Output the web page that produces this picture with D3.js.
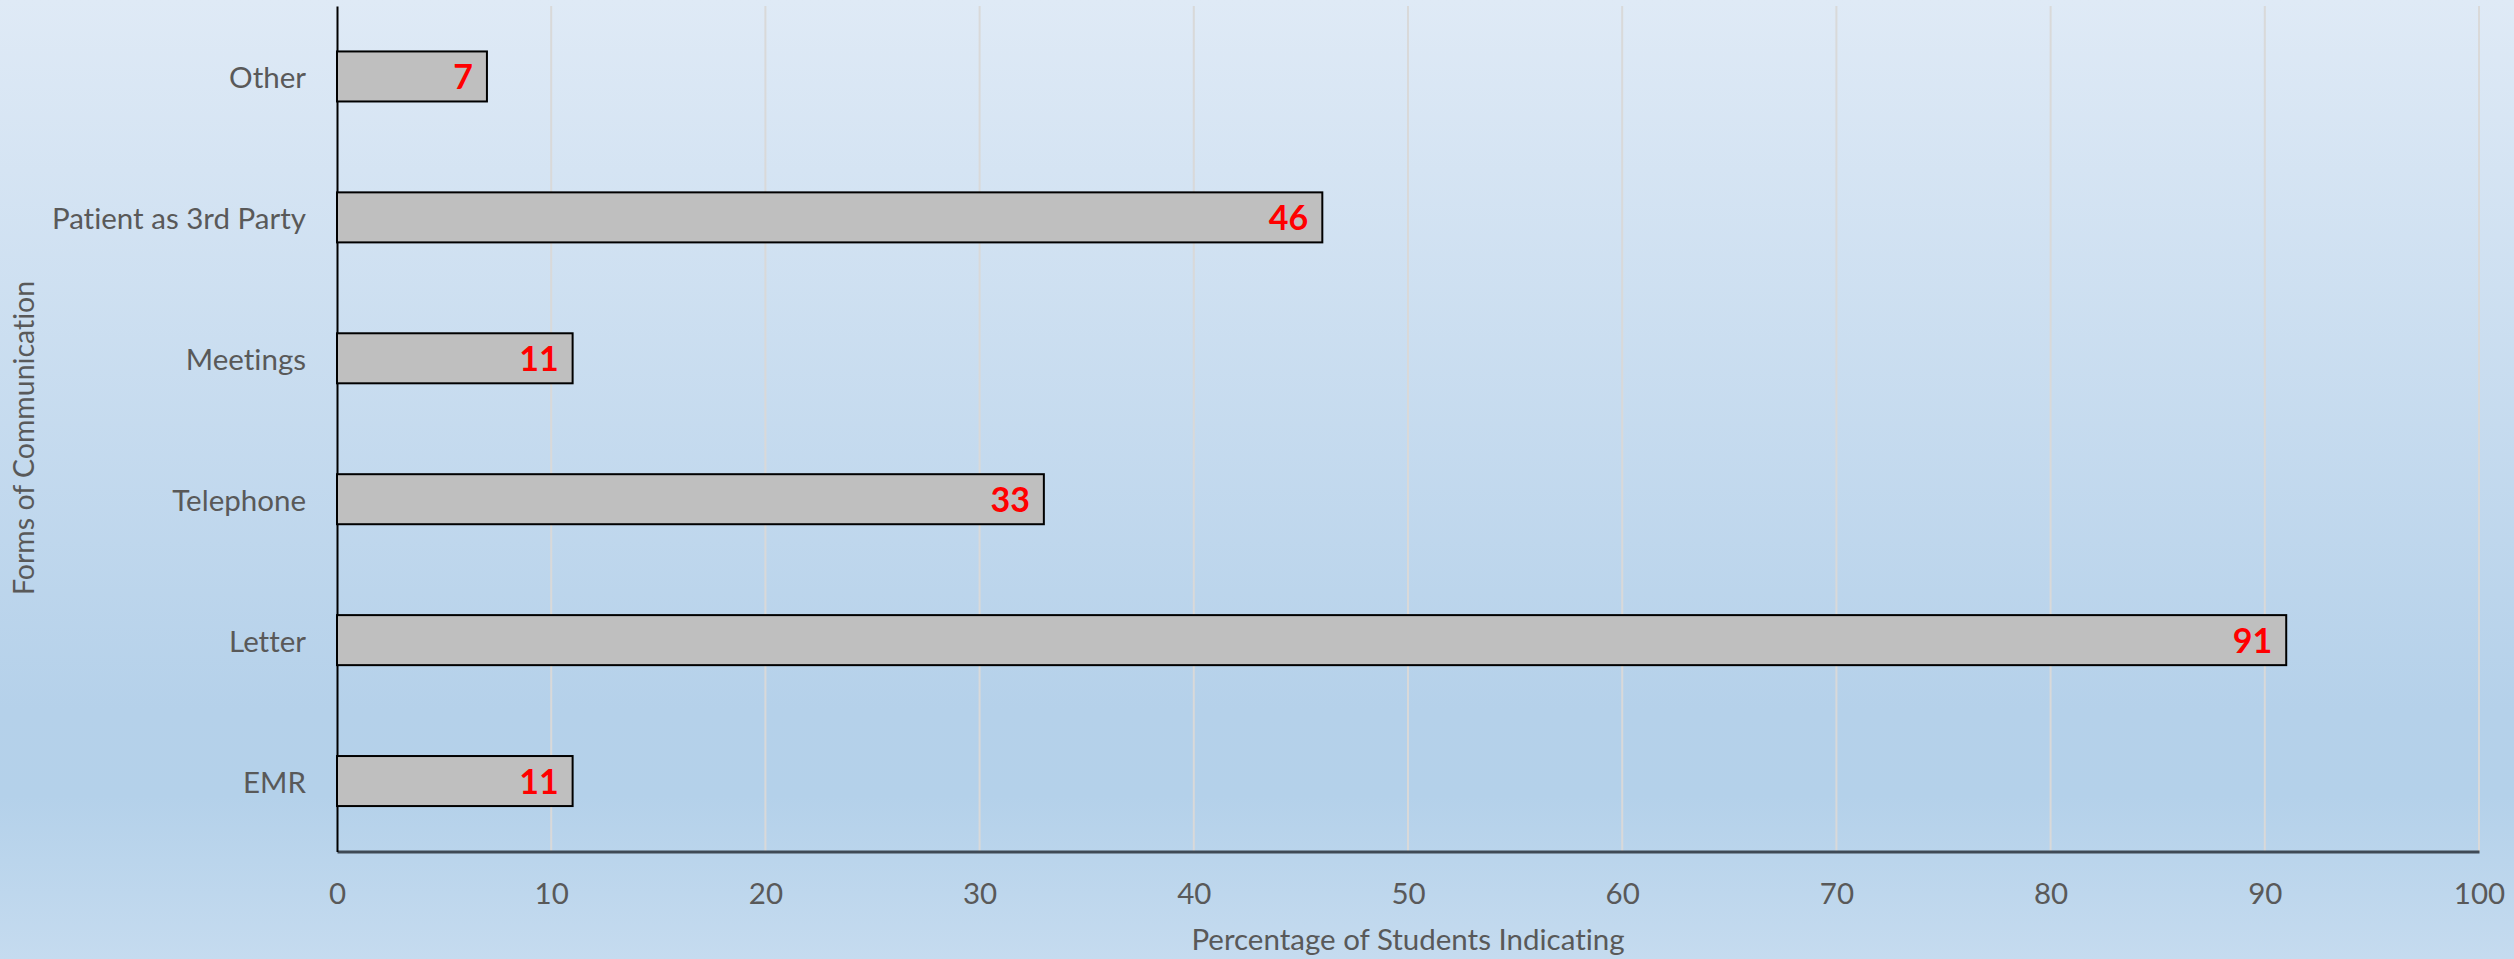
<!DOCTYPE html>
<html>
<head>
<meta charset="utf-8">
<script src="https://cdn.jsdelivr.net/npm/d3@7"></script>
<style>
  html, body { margin: 0; padding: 0; background: #ffffff; }
  svg { display: block; }
  text { font-family: Lato, "Open Sans", sans-serif; font-variant-ligatures: none; font-feature-settings: "liga" 0, "clig" 0; }
</style>
</head>
<body>
<svg id="chart"></svg>
<script>
// Forms of communication, listed bottom to top
const categories = ["EMR", "Letter", "Telephone", "Meetings", "Patient as 3rd Party", "Other"];
const percentages = [11, 91, 33, 11, 46, 7];
const xTicks = [0, 10, 20, 30, 40, 50, 60, 70, 80, 90, 100];
const xTitle = "Percentage of Students Indicating";
const yTitle = "Forms of Communication";

const W = 2514, H = 959;
const margin = { left: 337, right: W - 2479, top: 6, bottom: H - 851.5 };
const labelSize = "29.5px";

const svg = d3.select("#chart").attr("width", W).attr("height", H);

// background gradient
const defs = svg.append("defs");
const grad = defs.append("linearGradient")
  .attr("id", "bg").attr("x1", 0).attr("y1", 0).attr("x2", 0).attr("y2", 1);
[["0%", "#dfeaf6"], ["74%", "#b5d1ea"], ["83%", "#b4d1ea"], ["100%", "#c5dbef"]]
  .forEach(([o, c]) => grad.append("stop").attr("offset", o).attr("stop-color", c));
svg.append("rect").attr("width", W).attr("height", H).attr("fill", "url(#bg)");

const x = d3.scaleLinear().domain([0, 100]).range([margin.left, W - margin.right]);
const y = d3.scaleBand()
  .domain(categories.slice().reverse())
  .range([margin.top, H - margin.bottom])
  .paddingInner(0.645)
  .paddingOuter(0.3225);

// vertical gridlines
svg.append("g")
  .selectAll("line")
  .data(xTicks.filter(d => d > 0))
  .join("line")
  .attr("x1", d => x(d)).attr("x2", d => x(d))
  .attr("y1", margin.top).attr("y2", H - margin.bottom)
  .attr("stroke", "#d9d9d9").attr("stroke-width", 2);

// x axis
const xAxis = svg.append("g")
  .attr("transform", `translate(0,${H - margin.bottom})`)
  .call(d3.axisBottom(x).tickValues(xTicks).tickSize(0).tickPadding(0));
xAxis.select(".domain").attr("stroke", "#3f4a55").attr("stroke-width", 3);
xAxis.selectAll(".tick text")
  .attr("y", 52.5).attr("dy", null)
  .attr("fill", "#595959").style("font-size", labelSize);

// y axis
const yAxis = svg.append("g")
  .attr("transform", `translate(${margin.left},0)`)
  .call(d3.axisLeft(y).tickSize(0).tickPadding(0));
yAxis.select(".domain").attr("stroke", "#000000").attr("stroke-width", 2);
yAxis.selectAll(".tick text")
  .attr("x", -31).attr("dy", "0.40em")
  .attr("fill", "#595959").style("font-size", labelSize);

// bars
const data = categories.map((c, i) => ({ cat: c, val: percentages[i] }));
svg.append("g")
  .selectAll("rect")
  .data(data)
  .join("rect")
  .attr("x", x(0))
  .attr("y", d => y(d.cat))
  .attr("width", d => x(d.val) - x(0))
  .attr("height", y.bandwidth())
  .attr("fill", "#bfbfbf")
  .attr("stroke", "#000000")
  .attr("stroke-width", 2);

// value labels inside bar ends
svg.append("g")
  .selectAll("text")
  .data(data)
  .join("text")
  .attr("x", d => x(d.val) - 14)
  .attr("y", d => y(d.cat) + y.bandwidth() / 2)
  .attr("dy", "0.38em")
  .attr("text-anchor", "end")
  .attr("fill", "#ff0000")
  .style("font-size", "34px")
  .style("font-weight", "bold")
  .text(d => d.val);

// axis titles
svg.append("text")
  .attr("x", (x(0) + x(100)) / 2)
  .attr("y", 950)
  .attr("text-anchor", "middle")
  .attr("fill", "#595959")
  .style("font-size", labelSize)
  .text(xTitle);

svg.append("text")
  .attr("transform", "translate(34,438) rotate(-90)")
  .attr("text-anchor", "middle")
  .attr("fill", "#595959")
  .style("font-size", "28.5px")
  .text(yTitle);
</script>
</body>
</html>
